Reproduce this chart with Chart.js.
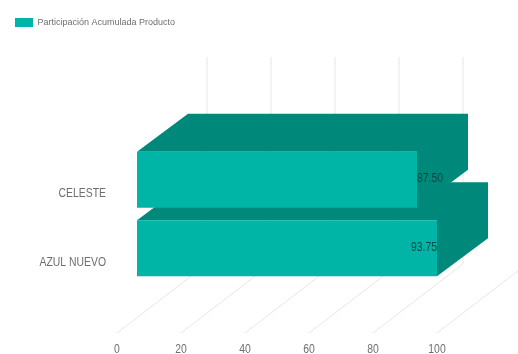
<!DOCTYPE html>
<html>
<head>
<meta charset="utf-8">
<title>Participación Acumulada Producto</title>
<script src="https://cdn.jsdelivr.net/npm/chart.js@4/dist/chart.umd.min.js"></script>
<style>
    html, body { margin: 0; padding: 0; background: #fff; }
    canvas { display: block; }
</style>
</head>
<body>
<canvas id="product-chart" width="518" height="354"></canvas>
<script>
const categories = ['CELESTE', 'AZUL NUEVO'];
const shareValues = [87.50, 93.75];
const seriesName = 'Participación Acumulada Producto';
const xTicks = [0, 20, 40, 60, 80, 100];

const frontColor = '#00b5a6';
const sideColor = '#00897b';
const gridColor = '#e6e6e6';
const labelColor = '#6e6e6e';
const fontFamily = '"Liberation Sans", sans-serif';

// Extrusion of each bar, up and to the right
const depthX = 51;
const depthY = 38;

// Axis and value text is set condensed, so squeeze it horizontally
const condense = 0.8;

function condensedText(ctx, text, x, y, align) {
    ctx.save();
    ctx.translate(x, y);
    ctx.scale(condense, 1);
    ctx.textAlign = align;
    ctx.textBaseline = 'middle';
    ctx.fillText(text, 0, 0);
    ctx.restore();
}

// Reserve the space above the plot while the legend stays at the top left
const legendSpacer = {
    id: 'legendSpacer',
    beforeInit(chart) {
        const fit = chart.legend.fit;
        chart.legend.fit = function() {
            fit.call(this);
            this.height = 142.5;
        };
    }
};

// Back wall and floor lines of the 3D box
const floorGrid = {
    id: 'floorGrid',
    beforeDatasetsDraw(chart) {
        const ctx = chart.ctx;
        const x = chart.scales.x;
        ctx.save();
        ctx.strokeStyle = gridColor;
        ctx.lineWidth = 1;
        x.ticks.forEach(function(tick) {
            const px = x.getPixelForValue(tick.value);
            const frontX = px - 20;
            const backX = px + 70;
            ctx.beginPath();
            ctx.moveTo(frontX, 333);
            ctx.lineTo(backX, 264);
            ctx.lineTo(backX, 57);
            ctx.stroke();
        });
        ctx.restore();
    }
};

// Top and side faces, lower bar first so the upper one overlaps it
const barDepth = {
    id: 'barDepth',
    beforeDatasetDraw(chart) {
        const ctx = chart.ctx;
        const bars = chart.getDatasetMeta(0).data;
        ctx.save();
        ctx.fillStyle = sideColor;
        for (let i = bars.length - 1; i >= 0; i--) {
            const bar = bars[i];
            const top = bar.y - bar.height / 2;
            const bottom = bar.y + bar.height / 2;
            ctx.beginPath();
            ctx.moveTo(bar.base, top);
            ctx.lineTo(bar.base + depthX, top - depthY);
            ctx.lineTo(bar.x + depthX, top - depthY);
            ctx.lineTo(bar.x + depthX, bottom - depthY);
            ctx.lineTo(bar.x, bottom);
            ctx.lineTo(bar.x, top);
            ctx.closePath();
            ctx.fill();
        }
        ctx.restore();
    }
};

// Tick labels sit on the front edge of the floor, below and left of the plot
const axisLabels = {
    id: 'axisLabels',
    afterDraw(chart) {
        const ctx = chart.ctx;
        const x = chart.scales.x;
        const y = chart.scales.y;
        ctx.save();
        ctx.font = '13px ' + fontFamily;
        ctx.fillStyle = labelColor;
        x.ticks.forEach(function(tick, i) {
            condensedText(ctx, String(tick.value), x.getPixelForTick(i) - 20, chart.chartArea.bottom + 67, 'center');
        });
        categories.forEach(function(name, i) {
            condensedText(ctx, name, chart.chartArea.left - 31, y.getPixelForTick(i) + 14, 'right');
        });
        ctx.restore();
    }
};

// Value labels: outside the bar when they fit before the last tick, else inside
const valueLabels = {
    id: 'valueLabels',
    afterDatasetsDraw(chart) {
        const ctx = chart.ctx;
        const limit = chart.scales.x.getPixelForValue(100);
        ctx.save();
        ctx.font = '13px ' + fontFamily;
        ctx.fillStyle = '#0c4744';
        chart.getDatasetMeta(0).data.forEach(function(bar, i) {
            const text = shareValues[i].toFixed(2);
            const width = ctx.measureText(text).width * condense;
            const fits = bar.x + width < limit;
            condensedText(ctx, text, bar.x, bar.y - 1, fits ? 'left' : 'right');
        });
        ctx.restore();
    }
};

new Chart(document.getElementById('product-chart'), {
    type: 'bar',
    data: {
        labels: categories,
        datasets: [{
            label: seriesName,
            data: shareValues,
            backgroundColor: frontColor,
            borderWidth: 0,
            barPercentage: 0.82,
            categoryPercentage: 1
        }]
    },
    options: {
        indexAxis: 'y',
        responsive: false,
        animation: false,
        layout: { autoPadding: false, padding: { top: 3, right: 61 } },
        plugins: {
            legend: {
                position: 'top',
                align: 'start',
                labels: {
                    boxWidth: 18,
                    boxHeight: 9,
                    padding: 15,
                    color: labelColor,
                    font: { family: fontFamily, size: 9 }
                }
            },
            tooltip: { enabled: false }
        },
        scales: {
            x: {
                min: 0,
                max: 100,
                afterBuildTicks(scale) {
                    scale.ticks = xTicks.map(function(v) { return { value: v }; });
                },
                afterFit(scale) { scale.height = 71.5; },
                grid: { display: false },
                border: { display: false },
                ticks: { display: false }
            },
            y: {
                afterFit(scale) { scale.width = 137; },
                grid: { display: false },
                border: { display: false },
                ticks: { display: false }
            }
        }
    },
    plugins: [legendSpacer, floorGrid, barDepth, valueLabels, axisLabels]
});
</script>
</body>
</html>
